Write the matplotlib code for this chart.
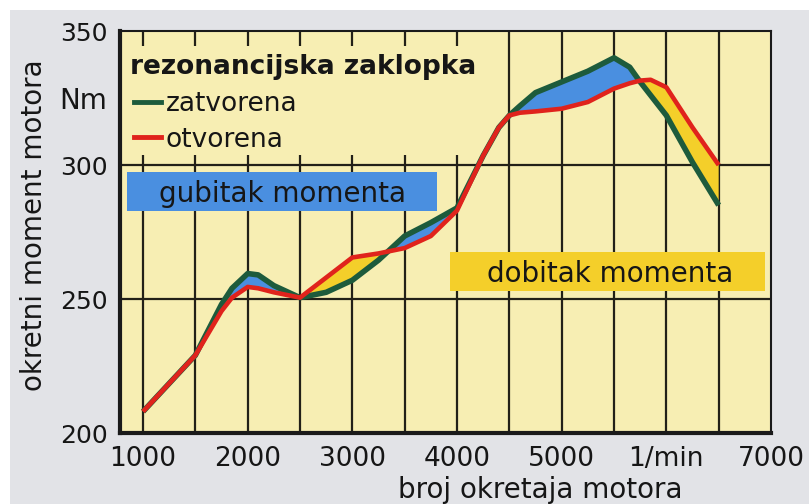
import numpy as np
import matplotlib
matplotlib.use('Agg')
import matplotlib.pyplot as plt
from matplotlib.patches import Rectangle

plt.rcParams['font.family'] = ['DejaVu Sans']

# engine speed (1/min)
rpm = [1000, 1250, 1500, 1750, 1850, 2000, 2100, 2250, 2500, 2750, 3000, 3250,
       3500, 3750, 4000, 4250, 4400, 4500, 4600, 4750, 5000, 5250, 5500, 5650,
       5750, 5850, 6000, 6250, 6500]
# torque, resonance flap closed (Nm)
zatvorena = [208, 218.5, 229, 248, 254, 259.5, 259, 255, 250.5, 252.5, 257, 264.5,
             273.5, 278.5, 284, 303.5, 314, 318.5, 322, 327, 331, 335, 340, 336.5,
             331, 326, 318.5, 301, 285]
# torque, resonance flap open (Nm)
otvorena = [208, 218.5, 229, 245.5, 250.5, 254.5, 254, 252.5, 250.5, 258, 265.5, 267,
            269, 273.5, 283, 303.5, 314, 318.5, 319.5, 320, 321, 323.5, 328.5, 330.5,
            331.5, 331.8, 329, 314, 300]

xticks = [1000, 2000, 3000, 4000, 5000, 6000, 7000]
xticklabels = ['1000', '2000', '3000', '4000', '5000', '1/min', '7000']
yticks = [200, 250, 300, 325, 350]
yticklabels = ['200', '250', '300', 'Nm', '350']

ax_bg = '#f7eeb3'
green = '#1d5b3c'
red = '#e0231c'
blue = '#4a8fe0'
yellow = '#f4cf2a'
ink = '#161616'

fig = plt.figure(figsize=(8.09, 5.04), dpi=100, facecolor='white')
fig.patches.append(Rectangle((10 / 809, 0), 799 / 809, 494 / 504, transform=fig.transFigure,
                             facecolor='#e2e3e7', edgecolor='none', zorder=-10))

ax = fig.add_axes([120 / 809, 71 / 504, 651 / 809, 402 / 504])
ax.set_facecolor(ax_bg)
ax.set_xlim(780, 7000)
ax.set_ylim(200, 350)

# grid
for v in range(1000, 7000, 500):
    ax.axvline(v, color='#222018', lw=1.6, zorder=1)
for h in [250, 300]:
    ax.axhline(h, color='#222018', lw=1.6, zorder=1)

x = np.array(rpm)
z = np.array(zatvorena)
o = np.array(otvorena)
ax.fill_between(x, z, o, where=z >= o, interpolate=True, color=blue, lw=0, zorder=2)
ax.fill_between(x, z, o, where=z <= o, interpolate=True, color=yellow, lw=0, zorder=2)
ax.plot(x, z, color=green, lw=4, solid_capstyle='butt', solid_joinstyle='round', zorder=3)
ax.plot(x, o, color=red, lw=3.3, solid_capstyle='butt', solid_joinstyle='round', zorder=4)

# legend area hides the grid
ax.add_patch(Rectangle((780, 303.7), 4219 - 780, 344.4 - 303.7, facecolor=ax_bg,
                       edgecolor='none', zorder=1.5))
ax.text(876, 333.9, 'rezonancijska zaklopka', fontsize=19, fontweight='bold',
        va='baseline', ha='left', color=ink, zorder=5)
ax.plot([914, 1172], [323.4, 323.4], color=green, lw=3.5, zorder=5)
ax.text(1215, 320.1, 'zatvorena', fontsize=19, va='baseline', ha='left', color=ink, zorder=5)
ax.plot([914, 1172], [310.3, 310.3], color=red, lw=3.5, zorder=5)
ax.text(1215, 306.7, 'otvorena', fontsize=19, va='baseline', ha='left', color=ink, zorder=5)

# loss / gain labels
ax.add_patch(Rectangle((847, 282.8), 3808 - 847, 297.4 - 282.8, facecolor=blue,
                       edgecolor='none', zorder=5))
ax.text(2330, 286.2, 'gubitak momenta', fontsize=20, va='baseline',
        ha='center', color=ink, zorder=6)
ax.add_patch(Rectangle((3932, 253.0), 6941 - 3932, 267.5 - 253.0, facecolor=yellow,
                       edgecolor='none', zorder=5))
ax.text(5460, 256.3, 'dobitak momenta', fontsize=20, va='baseline',
        ha='center', color=ink, zorder=6)

ax.set_xticks(xticks)
ax.set_xticklabels(xticklabels)
ax.set_yticks(yticks)
ax.set_yticklabels(yticklabels)
ax.tick_params(axis='x', length=0, labelsize=19, colors=ink, pad=9)
ax.tick_params(axis='y', length=0, labelsize=18, colors=ink, pad=9)
ax.get_yticklabels()[3].set_fontsize(20)

for side in ['left', 'bottom']:
    ax.spines[side].set_linewidth(3)
for side in ['top', 'right']:
    ax.spines[side].set_linewidth(1.5)
for s in ax.spines.values():
    s.set_color('#1a1a1a')
    s.set_zorder(7)

fig.text(398 / 809, 1 - 498 / 504, 'broj okretaja motora', fontsize=20, ha='left',
         va='baseline', color=ink)
fig.text(34 / 809, 1 - 225 / 504, 'okretni moment motora', fontsize=20, rotation=90,
         ha='center', va='center', color=ink)

fig.savefig('out.png', dpi=100, facecolor=fig.get_facecolor())
